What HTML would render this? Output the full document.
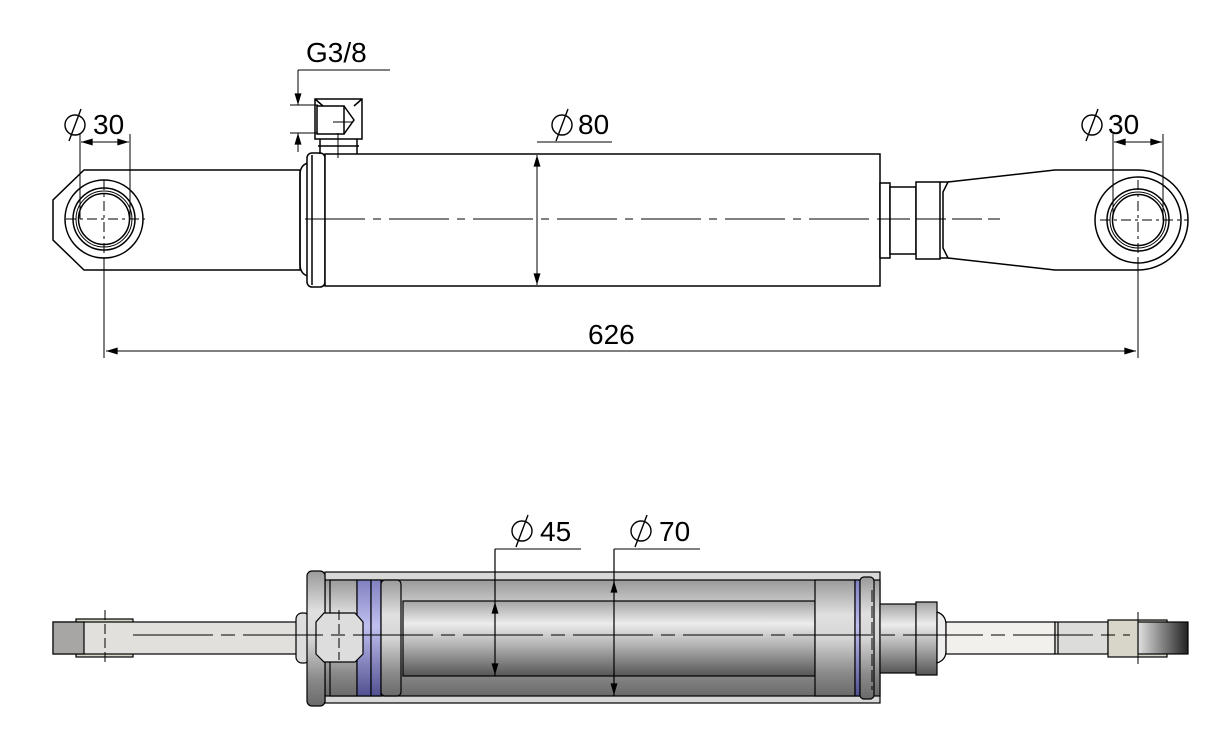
<!DOCTYPE html>
<html><head><meta charset="utf-8"><style>
html,body{margin:0;padding:0;background:#fff}
svg{display:block}
text{font-family:"Liberation Sans",sans-serif;font-size:28px;fill:#000}
</style></head><body>
<svg width="1223" height="735" viewBox="0 0 1223 735" xmlns="http://www.w3.org/2000/svg">
<defs>
<marker id="ar" viewBox="0 0 10 6" refX="10" refY="3" markerWidth="18" markerHeight="7" markerUnits="userSpaceOnUse" orient="auto-start-reverse"><path d="M0,0L10,3L0,6z" fill="#000"/></marker>
<linearGradient id="cyl" x1="0" y1="0" x2="0" y2="1">
<stop offset="0" stop-color="#9a9a9a"/><stop offset="0.3" stop-color="#e0e0e0"/><stop offset="0.5" stop-color="#d6d6d6"/><stop offset="0.8" stop-color="#8a8a8a"/><stop offset="1" stop-color="#6a6a6a"/></linearGradient>
<linearGradient id="rodg" x1="0" y1="0" x2="0" y2="1">
<stop offset="0" stop-color="#a4a4a4"/><stop offset="0.3" stop-color="#ececec"/><stop offset="0.6" stop-color="#b0b0b0"/><stop offset="1" stop-color="#555"/></linearGradient>
<linearGradient id="lugg" x1="0" y1="0" x2="1" y2="0">
<stop offset="0" stop-color="#e0e0e0"/><stop offset="1" stop-color="#222"/></linearGradient>
<linearGradient id="purp" x1="0" y1="0" x2="0" y2="1">
<stop offset="0" stop-color="#8080c0"/><stop offset="0.4" stop-color="#c0c0f0"/><stop offset="1" stop-color="#505090"/></linearGradient>
</defs>
<g fill="none" stroke="#000" stroke-width="1.5">
<path d="M84,170 L300,170 L300,270 L84,270 L53,240 L53,200 Z" fill="#fff"/>
<path d="M308,163 Q300,165 300,175 L300,264 Q300,274 308,276" />
<rect x="307" y="153" width="18" height="134" rx="5" fill="#fff"/>
<line x1="312" y1="155" x2="312" y2="285"/>
<rect x="325" y="154" width="555" height="132" fill="#fff"/>
<rect x="315" y="99" width="47" height="40" fill="#fff"/>
<rect x="317" y="106" width="27" height="28"/>
<path d="M344,106 L354,120 L344,134 M315,99 L323,106 M362,99 L354,106"/>
<path d="M320,139 L320,154 M357,139 L357,154 M318,146 L359,146"/>
<circle cx="104" cy="219" r="39"/>
<circle cx="104" cy="219" r="31"/>
<circle cx="104" cy="219" r="28" stroke-width="1"/>
<circle cx="104" cy="219" r="25.5"/>
<rect x="880" y="183" width="10" height="75" fill="#fff"/>
<rect x="890" y="187" width="26" height="67" fill="#fff"/>
<rect x="916" y="182" width="24" height="77" fill="#fff"/>
<path d="M940,182 L948,182 L943,192 L943,248 L948,258 L940,258"/>
<path d="M948,182 L1055,170 L1138,170 A50,50 0 0 1 1138,270 L1055,270 L948,258"/>
<circle cx="1138" cy="220" r="43"/>
<circle cx="1138" cy="220" r="31"/>
<circle cx="1138" cy="220" r="28" stroke-width="1"/>
<circle cx="1138" cy="220" r="25.5"/>
</g>
<g stroke="#000" stroke-width="1" fill="none">
<path d="M66,219H145 M104,180V260 M1100,220H1188 M1138,180V260" stroke-dasharray="10,4,3,4"/>
<path d="M104,260V358 M1138,260V358"/>
<path d="M305,219H880" stroke-dasharray="60,8,8,8"/>
<path d="M880,219H1000" stroke-dasharray="30,6"/>
<path d="M333,122H352 M338,133V158"/>
<line x1="106" y1="351" x2="1136" y2="351" marker-start="url(#ar)" marker-end="url(#ar)"/>
<path d="M80,134V219 M130,134V219"/>
<line x1="81" y1="142" x2="129" y2="142" marker-start="url(#ar)" marker-end="url(#ar)"/>
<path d="M1113,134V220 M1163,134V220"/>
<line x1="1114" y1="142" x2="1162" y2="142" marker-start="url(#ar)" marker-end="url(#ar)"/>
<line x1="537" y1="155" x2="537" y2="285" marker-start="url(#ar)" marker-end="url(#ar)"/>
<path d="M537,142H612"/>
<path d="M298,70H390 M290,105H318 M290,133H318"/>
<line x1="298" y1="70" x2="298" y2="105" marker-end="url(#ar)"/>
<line x1="298" y1="152" x2="298" y2="133" marker-end="url(#ar)"/>
</g>
<g fill="none" stroke="#000" stroke-width="1.4">
<circle cx="75" cy="125" r="10"/><line x1="69" y1="141" x2="81" y2="109"/>
<circle cx="1092" cy="125" r="10"/><line x1="1086" y1="141" x2="1098" y2="109"/>
<circle cx="562" cy="125" r="10"/><line x1="556" y1="141" x2="568" y2="109"/>
<circle cx="522" cy="531" r="10"/><line x1="516" y1="547" x2="528" y2="515"/>
<circle cx="641" cy="531" r="10"/><line x1="635" y1="547" x2="647" y2="515"/>
</g>
<text x="93" y="134">30</text>
<text x="1108" y="134">30</text>
<text x="578" y="134">80</text>
<text x="306" y="62">G3/8</text>
<text x="588" y="344">626</text>
<text x="540" y="541">45</text>
<text x="659" y="541">70</text>

<g stroke="#000" stroke-width="1.2">
<rect x="76" y="619" width="57" height="38" fill="#d8d6c8"/>
<rect x="53" y="622" width="247" height="32" fill="#e2e0dc"/>
<rect x="53" y="622" width="31" height="32" fill="#a8a6a4"/>
<rect x="296" y="613" width="14" height="50" rx="6" fill="#ddd"/>
<rect x="325" y="572" width="555" height="131" fill="#d8d8d8"/>
<rect x="325" y="580" width="555" height="116" fill="url(#cyl)"/>
<rect x="403" y="601" width="412" height="75" fill="url(#rodg)"/>
<rect x="330" y="580" width="27" height="116" fill="url(#cyl)"/>
<rect x="357" y="580" width="14" height="116" fill="url(#purp)"/>
<rect x="371" y="580" width="10" height="116" fill="url(#purp)"/>
<rect x="381" y="580" width="20" height="116" rx="4" fill="url(#cyl)"/>
<rect x="307" y="571" width="18" height="135" rx="5" fill="url(#cyl)"/>
<path d="M324,613 L355,613 L363,622 L363,654 L355,662 L324,662 L316,654 L316,622 Z" fill="#ddd"/>
<rect x="815" y="580" width="40" height="116" fill="url(#cyl)"/>
<rect x="855" y="580" width="5" height="116" fill="url(#purp)"/>
<rect x="860" y="577" width="14" height="122" rx="4" fill="url(#cyl)"/>
<rect x="880" y="604" width="36" height="69" fill="url(#rodg)"/>
<rect x="916" y="602" width="21" height="73" fill="url(#rodg)"/>
<path d="M937,612 Q946,615 946,625 L946,651 Q946,660 937,663 Z" fill="#eee"/>
<rect x="946" y="622" width="109" height="32" fill="#f2f0ec"/>
<rect x="1055" y="622" width="53" height="32" fill="#dcdcda"/>
<line x1="1058" y1="622" x2="1058" y2="654"/>
<rect x="1108" y="620" width="59" height="37" fill="#d8d6c8"/>
<rect x="1138" y="622" width="50" height="32" fill="url(#lugg)"/>
</g>
<g stroke="#000" stroke-width="1" fill="none">
<path d="M133,635H1130" stroke-dasharray="80,8,14,8"/>
<path d="M105,610V662 M1138,612V665 M339,610V660" stroke-dasharray="10,4"/>
<path d="M872,590V690" stroke-dasharray="12,4"/>
<path d="M495,549H581 M614,549H700"/>
<line x1="495" y1="549" x2="495" y2="676" stroke-width="1.2"/>
<line x1="495" y1="615" x2="495" y2="602" marker-end="url(#ar)"/>
<line x1="495" y1="660" x2="495" y2="675" marker-end="url(#ar)"/>
<line x1="614" y1="549" x2="614" y2="696" stroke-width="1.2"/>
<line x1="614" y1="595" x2="614" y2="581" marker-end="url(#ar)"/>
<line x1="614" y1="680" x2="614" y2="695" marker-end="url(#ar)"/>
</g>
</svg>
</body></html>
